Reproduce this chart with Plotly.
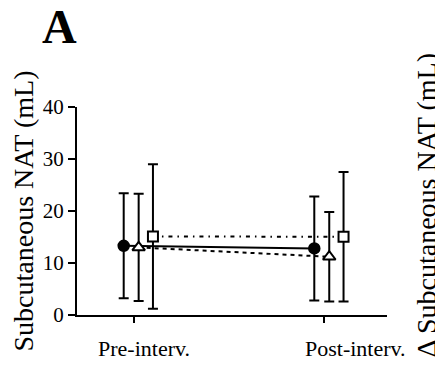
import plotly.graph_objects as go

# ---- data ----
categories = ["Pre-interv.", "Post-interv."]
cat_pos = [0, 1]
circle_mean = [13.3, 12.8]
circle_sd = [10.1, 10.0]
triangle_mean = [13.0, 11.2]
triangle_sd = [10.3, 8.6]
square_mean = [15.1, 15.05]
square_sd = [13.9, 12.45]
y_ticks = [0, 10, 20, 30, 40]

# ---- styling ----
FONT = "Liberation Serif"
offsets = [-0.0525, 0.026, 0.101]
label_shift = [0.052, 0.165]

fig = go.Figure()

series = [
    (circle_mean, circle_sd, offsets[0], "solid", dict(symbol="circle", size=11, color="black", line=dict(color="black", width=1.5))),
    (triangle_mean, triangle_sd, offsets[1], "4px,4px", dict(symbol="triangle-up", size=11, color="white", line=dict(color="black", width=2))),
    (square_mean, square_sd, offsets[2], "4px,5px,1.5px,5px", dict(symbol="square", size=10, color="white", line=dict(color="black", width=2))),
]

for mean, sd, off, dash, marker in series:
    fig.add_trace(go.Scatter(
        x=[p + off for p in cat_pos], y=mean,
        mode="lines+markers",
        line=dict(color="black", width=2, dash=dash),
        marker=marker,
        error_y=dict(type="data", array=sd, visible=True, color="black", thickness=2, width=5),
        showlegend=False,
    ))

fig.update_layout(
    width=435, height=364,
    margin=dict(l=69, r=56, t=99, b=57, autoexpand=False),
    paper_bgcolor="white", plot_bgcolor="white",
    font=dict(family=FONT, color="black"),
    xaxis=dict(
        range=[-0.2975, 1.329], tickvals=cat_pos, ticktext=["", ""],
        ticks="outside", ticklen=6, tickwidth=2, tickcolor="black",
        showline=True, linecolor="black", linewidth=2,
        showgrid=False, zeroline=False,
    ),
    yaxis=dict(
        range=[0, 40], tickvals=y_ticks,
        ticks="outside", ticklen=7, tickwidth=2, tickcolor="black",
        showline=True, linecolor="black", linewidth=2,
        showgrid=False, zeroline=False,
        tickfont=dict(size=21, family=FONT),
        title=dict(text="Subcutaneous NAT (mL)", font=dict(size=28, family=FONT), standoff=4),
    ),
)

for p, s, lab in zip(cat_pos, label_shift, categories):
    fig.add_annotation(x=p + s, y=-0.09, xref="x", yref="paper", text=lab,
                       showarrow=False, xanchor="center", yanchor="top",
                       font=dict(size=22, family=FONT))

fig.add_annotation(x=1.128, y=0.525, xref="paper", yref="paper",
                   text="Δ Subcutaneous NAT (mL)", textangle=-90, showarrow=False,
                   xanchor="center", yanchor="middle", font=dict(size=28, family=FONT))

fig.add_annotation(x=-0.12, y=1.385, xref="paper", yref="paper", text="<b>A</b>",
                   showarrow=False, xanchor="left", yanchor="middle",
                   font=dict(size=48, family=FONT))

fig.write_html("out.html")
